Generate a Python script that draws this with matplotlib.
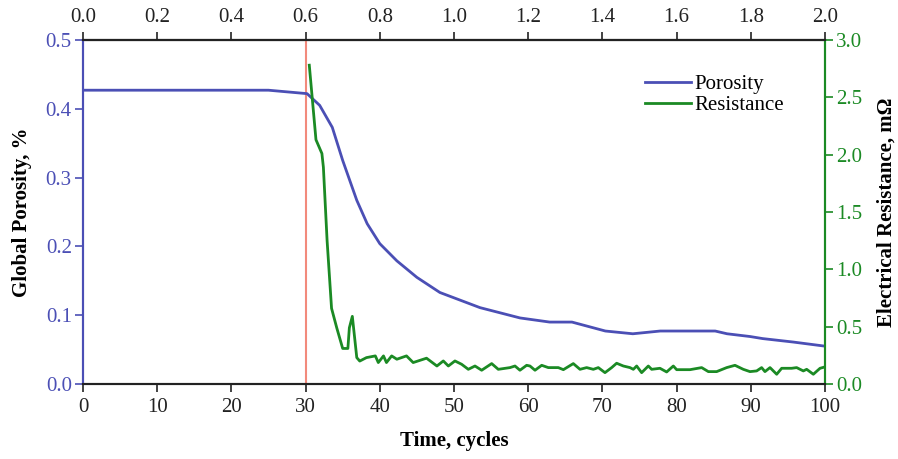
import matplotlib
matplotlib.use("Agg")
import matplotlib.pyplot as plt
from matplotlib.ticker import FormatStrFormatter, MultipleLocator, FixedLocator

plt.rcParams['font.family'] = ['Liberation Serif', 'DejaVu Serif']

# porosity curve (time in cycles, global porosity)
por_t = [0, 25, 30.2, 31.9, 33.6, 35.0, 36.9, 38.3, 40.0, 42.3, 45.0, 48.1,
         53.5, 58.9, 62.9, 65.9, 70.4, 74.1, 77.8, 85.2, 86.8, 89.9, 91.6,
         95.7, 100]
por_v = [0.427, 0.427, 0.422, 0.405, 0.373, 0.325, 0.267, 0.233, 0.204,
         0.179, 0.155, 0.133, 0.111, 0.096, 0.090, 0.090, 0.077, 0.073,
         0.077, 0.077, 0.073, 0.069, 0.066, 0.061, 0.055]

# electrical resistance (time in cycles, mOhm)
res_t = [30.5, 31.4, 32.2, 32.4, 32.9, 33.5, 34.2, 35.0, 35.7, 35.9, 36.3,
         36.9, 37.3, 38.2, 39.4, 39.8, 40.5, 40.9, 41.6, 42.3, 43.6, 44.5,
         46.3, 47.7, 48.56, 49.24, 50.13, 51.03, 51.93, 52.83, 53.73, 55.08,
         55.97, 57.55, 58.22, 58.89, 59.79, 60.24, 60.92, 61.82, 62.71,
         64.06, 64.74, 66.08, 66.98, 67.88, 68.78, 69.45, 70.35, 71.25,
         71.92, 72.82, 73.72, 74.17, 74.62, 75.29, 76.19, 76.64, 77.76,
         78.66, 79.56, 80.01, 81.81, 83.38, 84.28, 85.40, 86.75, 87.87,
         88.99, 89.89, 90.79, 91.46, 91.91, 92.59, 93.49, 94.16, 95.51,
         96.18, 97.08, 97.53, 98.43, 99.33, 100.0]
res_v = [2.78, 2.13, 2.01, 1.89, 1.25, 0.66, 0.49, 0.31, 0.31, 0.49, 0.59,
         0.23, 0.20, 0.23, 0.245, 0.187, 0.245, 0.187, 0.245, 0.216, 0.245,
         0.187, 0.225, 0.157, 0.201, 0.157, 0.201, 0.172, 0.128, 0.157,
         0.120, 0.178, 0.128, 0.143, 0.157, 0.120, 0.163, 0.157, 0.120,
         0.163, 0.143, 0.143, 0.125, 0.178, 0.128, 0.143, 0.128, 0.143,
         0.099, 0.143, 0.181, 0.157, 0.143, 0.128, 0.157, 0.099, 0.157,
         0.128, 0.137, 0.105, 0.157, 0.125, 0.125, 0.143, 0.108, 0.108,
         0.143, 0.163, 0.128, 0.108, 0.114, 0.143, 0.108, 0.143, 0.085,
         0.137, 0.137, 0.143, 0.114, 0.128, 0.085, 0.137, 0.149]

# top axis ticks (time in thousands of cycles? shown as 0.0 - 2.0)
top_ticks = [0.0, 0.2, 0.4, 0.6, 0.8, 1.0, 1.2, 1.4, 1.6, 1.8, 2.0]

event_t = 30

blue = '#4b4fb5'
green = '#1b8a24'
red = '#f28a7c'

fig = plt.figure(figsize=(8.98, 4.59), dpi=100)
ax = fig.add_axes([0.0924, 0.1634, 0.8263, 0.7495])
ax2 = ax.twinx()

ax.axvline(event_t, color=red, lw=1.5, zorder=1)
lp, = ax.plot(por_t, por_v, color=blue, lw=2, label='Porosity', zorder=3)
lr, = ax2.plot(res_t, res_v, color=green, lw=2, label='Resistance')

ax.set_xlim(0, 100)
ax.set_ylim(0, 0.5)
ax2.set_ylim(0, 3.0)
ax.xaxis.set_major_locator(MultipleLocator(10))
ax.yaxis.set_major_locator(MultipleLocator(0.1))
ax.yaxis.set_major_formatter(FormatStrFormatter('%.1f'))
ax2.yaxis.set_major_locator(MultipleLocator(0.5))
ax2.yaxis.set_major_formatter(FormatStrFormatter('%.1f'))

top = ax.secondary_xaxis('top', functions=(lambda x: x / 50, lambda x: x * 50))
top.xaxis.set_major_locator(FixedLocator(top_ticks))
top.xaxis.set_major_formatter(FormatStrFormatter('%.1f'))

for a in (ax, ax2):
    a.spines['top'].set_color('#222222')
    a.spines['bottom'].set_color('#222222')
    a.spines['left'].set_color(blue)
    a.spines['right'].set_color(green)
    for s in a.spines.values():
        s.set_linewidth(1.5)
top.spines['top'].set_color('#222222')
top.spines['top'].set_linewidth(1.5)

ax.tick_params(axis='x', direction='out', length=6, width=1.2,
               labelsize=15, colors='#222222', pad=4)
ax.tick_params(axis='y', direction='out', length=6, width=1.2,
               labelsize=15, colors=blue, pad=2)
ax2.tick_params(axis='y', direction='out', length=6, width=1.2,
                labelsize=15, colors=green, pad=2)
top.tick_params(axis='x', direction='out', length=6, width=1.2,
                labelsize=15, colors='#222222', pad=3)

ax.set_xlabel('Time, cycles', fontsize=15, fontweight='bold', labelpad=10)
ax.set_ylabel('Global Porosity, %', fontsize=15, fontweight='bold', labelpad=10)
ax2.set_ylabel('Electrical Resistance, mΩ', fontsize=15, fontweight='bold',
               labelpad=10)

leg = ax2.legend(handles=[lp, lr], loc='upper right',
                 bbox_to_anchor=(0.97, 0.955), frameon=False, fontsize=15,
                 handlelength=2.2, handletextpad=0.15, labelspacing=0.1)

fig.savefig('out.png', dpi=100)
